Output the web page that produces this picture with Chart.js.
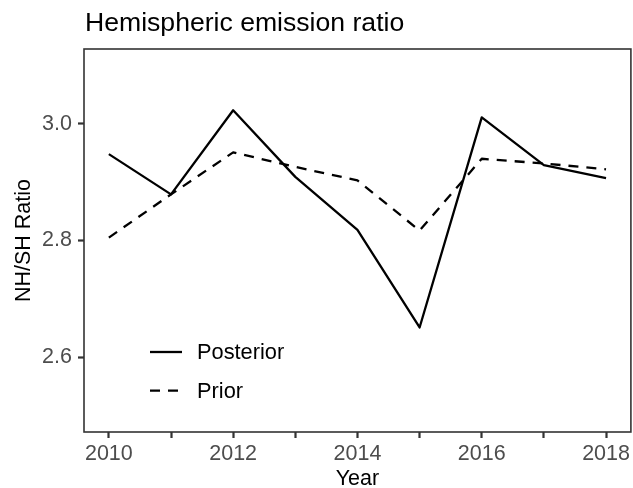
<!DOCTYPE html>
<html>
<head>
<meta charset="utf-8">
<title>Hemispheric emission ratio</title>
<script src="https://cdn.jsdelivr.net/npm/chart.js@4.4.1/dist/chart.umd.min.js"></script>
<style>
  html, body { margin: 0; padding: 0; background: #fff; }
  canvas { display: block; }
</style>
</head>
<body>
<canvas id="ratioChart" width="633" height="488"></canvas>
<script>
// Chart data
const years = [2010, 2011, 2012, 2013, 2014, 2015, 2016, 2017, 2018];
const posterior = [2.948, 2.879, 3.023, 2.909, 2.818, 2.651, 3.011, 2.929, 2.907];
const prior = [2.805, 2.879, 2.951, 2.926, 2.903, 2.817, 2.940, 2.932, 2.922];
const yTicks = [2.6, 2.8, 3.0];

const FONT = "'Liberation Sans', Arial, sans-serif";

function toPoints(values) {
  return years.map((yr, i) => ({ x: yr, y: values[i] }));
}

// Title, panel border and legend inside the panel
const decorPlugin = {
  id: "decor",
  afterDatasetsDraw(chart) {
    const { ctx, chartArea } = chart;
    ctx.save();

    // panel border
    ctx.strokeStyle = "#333333";
    ctx.lineWidth = 1.6;
    ctx.strokeRect(chartArea.left, chartArea.top,
      chartArea.right - chartArea.left, chartArea.bottom - chartArea.top);

    // title
    ctx.fillStyle = "#000";
    ctx.font = "26.6px " + FONT;
    ctx.textBaseline = "alphabetic";
    ctx.textAlign = "left";
    ctx.fillText("Hemispheric emission ratio", chartArea.left + 1, 31);

    // legend
    const lx = chartArea.left + 66;
    let ly = chartArea.bottom - 80;
    ctx.font = "21.8px " + FONT;
    ctx.textBaseline = "middle";
    chart.data.datasets.forEach((ds) => {
      ctx.beginPath();
      ctx.strokeStyle = ds.borderColor;
      ctx.lineWidth = ds.borderWidth;
      ctx.setLineDash(ds.borderDash || []);
      ctx.moveTo(lx, ly);
      ctx.lineTo(lx + 32, ly);
      ctx.stroke();
      ctx.setLineDash([]);
      ctx.fillStyle = "#000";
      ctx.fillText(ds.label, lx + 47, ly + 1);
      ly += 38.7;
    });

    ctx.restore();
  },
};

const ctx = document.getElementById("ratioChart").getContext("2d");
new Chart(ctx, {
  type: "line",
  data: {
    datasets: [
      {
        label: "Posterior",
        data: toPoints(posterior),
        borderColor: "#000",
        borderWidth: 2.3,
        borderJoinStyle: "round",
        pointRadius: 0,
        tension: 0,
      },
      {
        label: "Prior",
        data: toPoints(prior),
        borderColor: "#000",
        borderWidth: 2.3,
        borderDash: [10, 8],
        borderJoinStyle: "round",
        pointRadius: 0,
        tension: 0,
      },
    ],
  },
  options: {
    responsive: false,
    animation: false,
    layout: { padding: { top: 49, right: 1, left: 0, bottom: 0 } },
    plugins: {
      legend: { display: false },
      tooltip: { enabled: false },
      title: { display: false },
    },
    scales: {
      x: {
        type: "linear",
        min: 2009.6,
        max: 2018.4,
        border: { display: false },
        grid: {
          drawOnChartArea: false,
          drawTicks: true,
          tickLength: 6,
          tickWidth: 2.2,
          tickColor: "#333333",
        },
        afterBuildTicks(scale) {
          scale.ticks = years.map((v) => ({ value: v }));
        },
        afterFit(scale) {
          scale.height = 56;
        },
        ticks: {
          autoSkip: false,
          maxRotation: 0,
          padding: 3,
          color: "#4D4D4D",
          font: { family: FONT, size: 21.5 },
          callback: (v) => (v % 2 === 0 ? String(v) : ""),
        },
        title: {
          display: true,
          text: "Year",
          color: "#000",
          padding: { top: 0, bottom: 0 },
          font: { family: FONT, size: 21.5, lineHeight: 0.8 },
        },
      },
      y: {
        min: 2.472,
        max: 3.128,
        border: { display: false },
        grid: {
          drawOnChartArea: false,
          drawTicks: true,
          tickLength: 6,
          tickWidth: 2.2,
          tickColor: "#333333",
        },
        afterBuildTicks(scale) {
          scale.ticks = yTicks.map((v) => ({ value: v }));
        },
        afterFit(scale) {
          scale.width = 84;
        },
        ticks: {
          padding: 6,
          color: "#4D4D4D",
          font: { family: FONT, size: 21.5 },
          callback: (v) => v.toFixed(1),
        },
        title: {
          display: true,
          text: "NH/SH Ratio",
          color: "#000",
          padding: { top: 11, bottom: 0 },
          font: { family: FONT, size: 21.5 },
        },
      },
    },
  },
  plugins: [decorPlugin],
});
</script>
</body>
</html>
